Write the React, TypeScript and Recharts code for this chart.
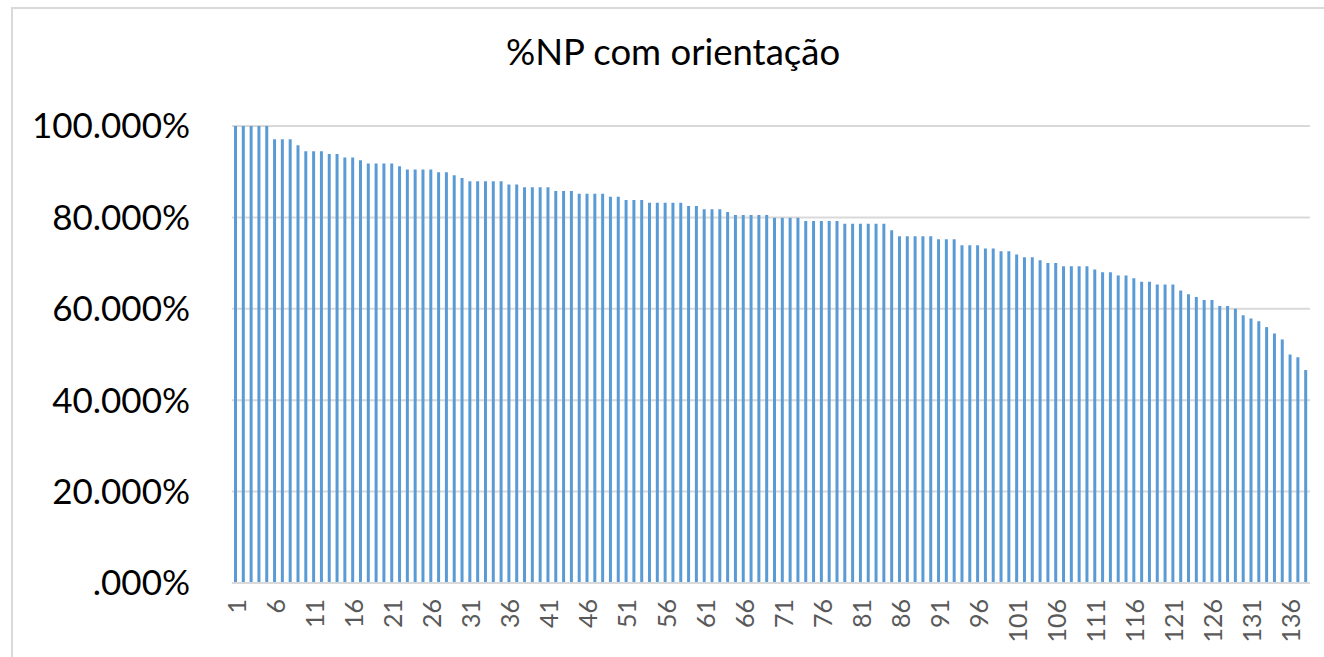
import React from 'react';
import { BarChart, Bar, XAxis, YAxis, CartesianGrid } from 'recharts';

// %NP per item, sorted high to low
const values = [
  100, 100, 100, 100, 100, 97.1, 97.1, 97.1, 95.8, 94.5,
  94.5, 94.5, 93.9, 93.9, 93.1, 93.1, 92.5, 91.8, 91.8, 91.8,
  91.8, 91.2, 90.5, 90.5, 90.5, 90.5, 89.9, 89.9, 89.2, 88.6,
  87.9, 87.9, 87.9, 87.9, 87.9, 87.2, 87.2, 86.6, 86.6, 86.6,
  86.6, 85.8, 85.8, 85.8, 85.2, 85.2, 85.2, 85.2, 84.5, 84.5,
  83.8, 83.8, 83.8, 83.2, 83.2, 83.2, 83.2, 83.2, 82.5, 82.5,
  81.8, 81.8, 81.8, 81.2, 80.5, 80.5, 80.5, 80.5, 80.5, 79.9,
  79.9, 79.9, 79.9, 79.2, 79.2, 79.2, 79.2, 79.2, 78.6, 78.6,
  78.6, 78.6, 78.6, 78.6, 77.2, 75.9, 75.9, 75.9, 75.9, 75.9,
  75.2, 75.2, 75.2, 73.9, 73.9, 73.9, 73.2, 73.2, 72.6, 72.6,
  71.9, 71.3, 71.3, 70.6, 70.0, 70.0, 69.3, 69.3, 69.3, 69.3,
  68.6, 68.0, 68.0, 67.3, 67.3, 66.7, 65.9, 65.9, 65.3, 65.3,
  65.3, 64.0, 63.2, 62.6, 61.9, 61.9, 60.6, 60.6, 60.0, 58.6,
  57.9, 57.3, 56.0, 54.6, 53.3, 50.0, 49.4, 46.6,
];
const categories = values.map((_, i) => String(i + 1));
const yTicks = [0, 20, 40, 60, 80, 100];
const title = '%NP com orientação';

const data = categories.map((name, i) => ({ name, value: values[i] }));

const FONT = 'Lato, "Open Sans", sans-serif';

function formatPercent(v: number) {
  const s = v.toFixed(3) + '%';
  return v === 0 ? s.replace(/^0/, '') : s;
}

function XTick(props: any) {
  const { x, y, payload } = props;
  return (
    <text
      x={x}
      y={y}
      dx={1}
      transform={`rotate(-90 ${x} ${y})`}
      textAnchor="end"
      dominantBaseline="central"
      fontSize={25}
      fill="#595959"
      fontFamily={FONT}
    >
      {payload.value}
    </text>
  );
}

export default function App() {
  return (
    <div style={{ position: 'fixed', left: 0, top: 0, width: 1324, height: 657, overflow: 'hidden', background: '#fff' }}>
      {/* chart-area frame: only its top and left edges fall inside the picture */}
      <div
        style={{
          position: 'absolute',
          left: 11,
          top: 7,
          width: 1313,
          height: 650,
          borderTop: '2px solid #d9d9d9',
          borderLeft: '2px solid #d9d9d9',
          boxSizing: 'border-box',
        }}
      />
      <svg width={1324} height={100} style={{ position: 'absolute', left: 0, top: 0 }}>
        <text x={673} y={65} textAnchor="middle" fontSize={36.5} fontFamily={FONT} fill="#000">
          {title}
        </text>
      </svg>
      <div style={{ position: 'absolute', left: 0, top: 0 }}>
        <BarChart
          width={1324}
          height={657}
          data={data}
          margin={{ top: 126, right: 14, left: 0, bottom: 0 }}
          barSize={3}
        >
          <CartesianGrid vertical={false} stroke="#d9d9d9" strokeWidth={2} />
          <XAxis
            dataKey="name"
            interval={4}
            height={74}
            tickLine={false}
            tickSize={0}
            tickMargin={17}
            axisLine={{ stroke: '#d9d9d9', strokeWidth: 2 }}
            tick={<XTick />}
          />
          <YAxis
            width={232}
            domain={[0, 100]}
            ticks={yTicks}
            tickFormatter={formatPercent}
            axisLine={false}
            tickLine={false}
            tickSize={0}
            tickMargin={42}
            tick={{ fill: '#000', fontSize: 35, fontFamily: FONT }}
          />
          <Bar dataKey="value" fill="#5b9bd5" isAnimationActive={false} />
        </BarChart>
      </div>
    </div>
  );
}
